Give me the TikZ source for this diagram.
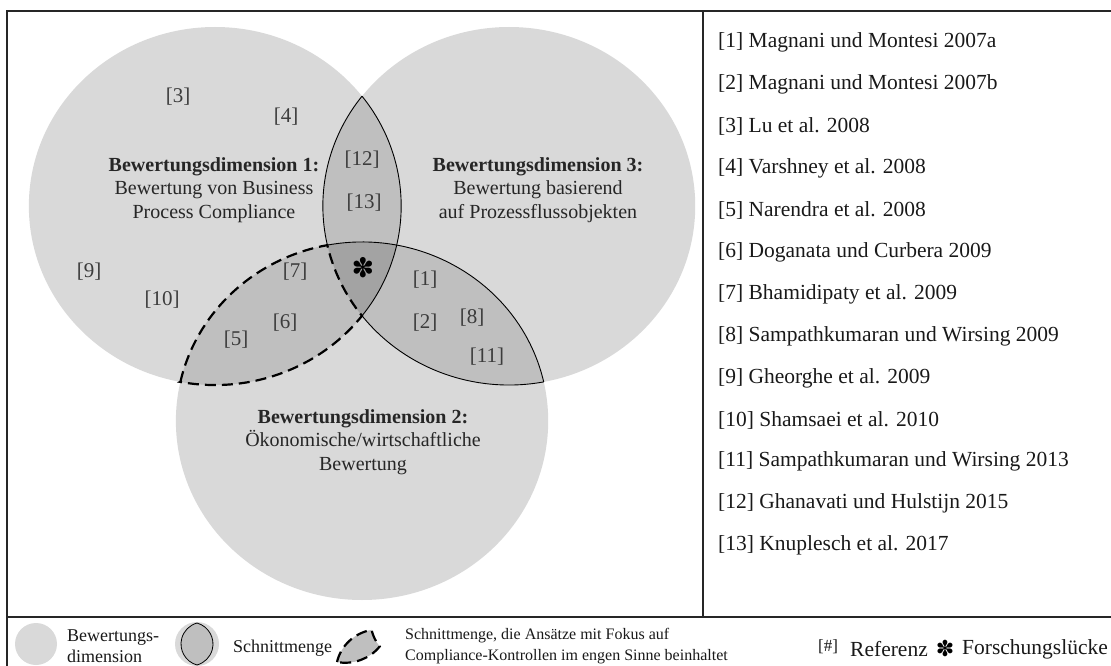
\documentclass[tikz,border=0pt]{standalone}
\usepackage{fontspec}
\setmainfont{Liberation Serif}
\newfontfamily\dingfont{DejaVu Sans}
\definecolor{dimfill}{RGB}{217,217,217}
\definecolor{pairfill}{RGB}{191,191,191}
\definecolor{triplefill}{RGB}{163,163,163}
\definecolor{labelgray}{RGB}{60,60,60}
\begin{document}
\begin{tikzpicture}[x=1pt,y=-1pt,
  frameline/.style={line width=1.4pt, draw=black!85},
  lensline/.style={line width=0.9pt, draw=black},
  gapline/.style={line width=2.2pt, draw=black, dash pattern=on 11pt off 6pt},
  reflabel/.style={text=labelgray, font=\fontsize{21}{25}\selectfont, inner sep=0pt},
  dimtitle/.style={text=black!85, font=\fontsize{20}{23.5}\selectfont, align=center, inner sep=0pt},
  refentry/.style={anchor=west, text=black!90, font=\fontsize{21.5}{25}\selectfont, inner sep=0pt},
  legendtext/.style={anchor=west, text=black!90, font=\fontsize{18}{21}\selectfont, align=left, inner sep=0pt}
]
\useasboundingbox (0,0) rectangle (1111,666);

% frame and dividers
\draw[frameline] (7,666) -- (7,11) -- (1111,11);
\draw[frameline] (7,617) -- (1111,617);
\draw[frameline] (703,11) -- (703,617);

% Venn diagram of the three evaluation dimensions
\begin{scope}[xscale=1.04]
  \coordinate (C1) at (206.7,206);
  \coordinate (C2) at (348.05,421);
  \coordinate (C3) at (489.4,206);
  \coordinate (P13t) at (348.05,96.2);
  \coordinate (P13b) at (348.05,315.8);
  \coordinate (P12a) at (381.4,245.1);
  \coordinate (P12b) at (173.4,381.9);
  \coordinate (P23a) at (314.7,245.1);
  \coordinate (P23b) at (522.7,381.9);

  \fill[dimfill] (C1) circle (179);
  \fill[dimfill] (C2) circle (179);
  \fill[dimfill] (C3) circle (179);
  \begin{scope}
    \clip (C1) circle (179);
    \fill[pairfill] (C2) circle (179);
    \fill[pairfill] (C3) circle (179);
  \end{scope}
  \begin{scope}
    \clip (C2) circle (179);
    \fill[pairfill] (C3) circle (179);
  \end{scope}
  \begin{scope}
    \clip (C1) circle (179);
    \clip (C2) circle (179);
    \fill[triplefill] (C3) circle (179);
  \end{scope}

  % solid outlines of the intersections
  \draw[lensline] (P13t) arc[start angle=-37.84, end angle=37.84, radius=179];
  \draw[lensline] (P23a) arc[start angle=167.38, end angle=217.84, radius=179];
  \draw[lensline] (P23b) arc[start angle=79.28, end angle=142.16, radius=179];
  \draw[lensline] (P23a) arc[start angle=-100.74, end angle=-12.62, radius=179];
  % dashed outline: compliance controls in the narrow sense
  \draw[gapline] (P12b) arc[start angle=192.62, end angle=259.26, radius=179]
    arc[start angle=167.38, end angle=142.16, radius=179]
    arc[start angle=37.84, end angle=100.72, radius=179] -- cycle;
\end{scope}

% labels inside the circles
\node[reflabel] (r3) at (178,97) {[3]};
\node[reflabel] (r4) at (286,117) {[4]};
\node[reflabel] (r12) at (362,160) {[12]};
\node[reflabel] (r13) at (364,203) {[13]};
\node[reflabel] (r9) at (89,272) {[9]};
\node[reflabel] (r10) at (162,300) {[10]};
\node[reflabel] (r7) at (295,272) {[7]};
\node[reflabel] (r6) at (285,323) {[6]};
\node[reflabel] (r5) at (236,340) {[5]};
\node[reflabel] (r1) at (425,280) {[1]};
\node[reflabel] (r2) at (425,323) {[2]};
\node[reflabel] (r8) at (472,318) {[8]};
\node[reflabel] (r11) at (487,357) {[11]};
\node[text=black, font=\dingfont\fontsize{27}{27}\selectfont, inner sep=0pt] (gap) at (363,268) {✽};

\node[dimtitle] (dim1) at (214,190) {\textbf{Bewertungsdimension 1:}\\Bewertung von Business\\Process Compliance};
\node[dimtitle] (dim3) at (538,190) {\textbf{Bewertungsdimension 3:}\\Bewertung basierend\\auf Prozessflussobjekten};
\node[dimtitle] (dim2) at (363,442) {\textbf{Bewertungsdimension 2:}\\Ökonomische/wirtschaftliche\\Bewertung};

% reference list
\node[refentry] (e1) at (718,42) {[1] Magnani und Montesi 2007a};
\node[refentry] (e2) at (718,84) {[2] Magnani und Montesi 2007b};
\node[refentry] (e3) at (718,126) {[3] Lu et al. 2008};
\node[refentry] (e4) at (718,168) {[4] Varshney et al. 2008};
\node[refentry] (e5) at (718,210) {[5] Narendra et al. 2008};
\node[refentry] (e6) at (718,252) {[6] Doganata und Curbera 2009};
\node[refentry] (e7) at (718,294) {[7] Bhamidipaty et al. 2009};
\node[refentry] (e8) at (718,336) {[8] Sampathkumaran und Wirsing 2009};
\node[refentry] (e9) at (718,378) {[9] Gheorghe et al. 2009};
\node[refentry] (e10) at (718,420) {[10] Shamsaei et al. 2010};
\node[refentry] (e11) at (718,461) {[11] Sampathkumaran und Wirsing 2013};
\node[refentry] (e12) at (718,503) {[12] Ghanavati und Hulstijn 2015};
\node[refentry] (e13) at (718,545) {[13] Knuplesch et al. 2017};

% legend
\fill[dimfill] (36,644) circle (21);
\node[legendtext] (lg1) at (67,646) {Bewertungs-\\dimension};

\fill[dimfill] (197,644) circle (22);
\filldraw[fill=pairfill, draw=black, line width=0.8pt] (197,665)
  arc[start angle=105.4, end angle=254.6, radius=21.78]
  arc[start angle=-74.6, end angle=74.6, radius=21.78] -- cycle;
\node[legendtext] (lg2) at (233,648) {Schnittmenge};

\begin{scope}[shift={(337,662)}, scale=0.235, xscale=1.04]
  \filldraw[fill=pairfill, gapline] (0,0) arc[start angle=192.62, end angle=259.26, radius=179]
    arc[start angle=167.38, end angle=142.16, radius=179]
    arc[start angle=37.84, end angle=100.72, radius=179] -- cycle;
\end{scope}
\node[legendtext, font=\fontsize{16}{21}\selectfont] (lg3) at (405,646) {Schnittmenge, die Ansätze mit Fokus auf\\Compliance-Kontrollen im engen Sinne beinhaltet};

\node[legendtext, font=\fontsize{17}{20}\selectfont] (lg4) at (818,647) {[\#]};
\node[legendtext, font=\fontsize{21.5}{24}\selectfont] (lg5) at (850,649) {Referenz};
\node[text=black, font=\dingfont\fontsize{22}{22}\selectfont, inner sep=0pt] (lg6) at (945,648) {✽};
\node[legendtext, font=\fontsize{21.5}{24}\selectfont] (lg7) at (962,649) {Forschungslücke};
\end{tikzpicture}
\end{document}
